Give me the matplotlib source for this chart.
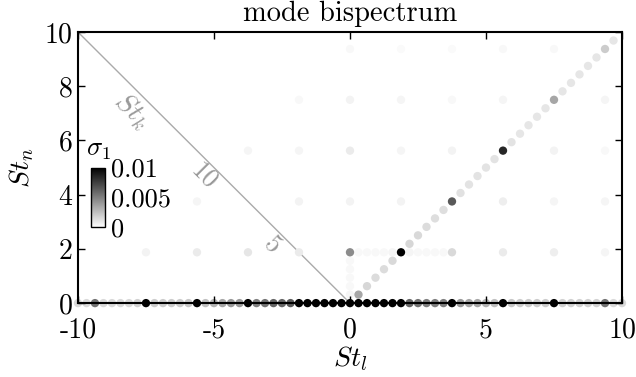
import matplotlib
matplotlib.use("Agg")
import matplotlib.pyplot as plt
import numpy as np

plt.rcParams['font.family'] = 'serif'
plt.rcParams['font.serif'] = ['cmr10', 'DejaVu Serif']
plt.rcParams['mathtext.fontset'] = 'cm'
plt.rcParams['axes.unicode_minus'] = False
plt.rcParams['axes.formatter.use_mathtext'] = True

# St_n = 0 row (St_l from -10 to 10)
row0_st_l = [-10.0, -9.6875, -9.375, -9.0625, -8.75, -8.4375, -8.125, -7.8125, -7.5,
             -7.1875, -6.875, -6.5625, -6.25, -5.9375, -5.625, -5.3125, -5.0, -4.6875,
             -4.375, -4.0625, -3.75, -3.4375, -3.125, -2.8125, -2.5, -2.1875, -1.875,
             -1.5625, -1.25, -0.9375, -0.625, -0.3125, 0.0, 0.3125, 0.625, 0.9375, 1.25,
             1.5625, 1.875, 2.1875, 2.5, 2.8125, 3.125, 3.4375, 3.75, 4.0625, 4.375,
             4.6875, 5.0, 5.3125, 5.625, 5.9375, 6.25, 6.5625, 6.875, 7.1875, 7.5,
             7.8125, 8.125, 8.4375, 8.75, 9.0625, 9.375, 9.6875, 10.0]
row0_sigma = [0.0015, 0.0015, 0.0055, 0.0015, 0.0015, 0.0015, 0.0015, 0.0018, 0.012,
              0.002, 0.002, 0.002, 0.002, 0.0022, 0.012, 0.0025, 0.003, 0.0035,
              0.004, 0.004, 0.012, 0.005, 0.0055, 0.006, 0.006, 0.0065, 0.012,
              0.012, 0.012, 0.012, 0.012, 0.012, 0.012, 0.012, 0.012, 0.012, 0.012,
              0.012, 0.011, 0.006, 0.0055, 0.005, 0.005, 0.005, 0.012, 0.004, 0.0035,
              0.0035, 0.003, 0.0025, 0.012, 0.0022, 0.002, 0.002, 0.002, 0.002, 0.012,
              0.0018, 0.0018, 0.0018, 0.0018, 0.0018, 0.0055, 0.0015, 0.0015]

# diagonal St_l = St_n
diag_st = [0.3125, 0.625, 0.9375, 1.25, 1.5625, 1.875, 2.1875, 2.5, 2.8125, 3.125,
           3.4375, 3.75, 4.0625, 4.375, 4.6875, 5.0, 5.3125, 5.625, 5.9375, 6.25,
           6.5625, 6.875, 7.1875, 7.5, 7.8125, 8.125, 8.4375, 8.75, 9.0625, 9.375, 9.6875]
diag_sigma = [0.0035, 0.0016, 0.0014, 0.0014, 0.0015, 0.011, 0.0016, 0.0015, 0.0014, 0.0013,
              0.0013, 0.0065, 0.0012, 0.0011, 0.0011, 0.0011, 0.0011, 0.0085, 0.0011, 0.001,
              0.001, 0.001, 0.001, 0.0035, 0.001, 0.001, 0.001, 0.001, 0.001, 0.002, 0.001]

# weaker interactions off the axis / diagonal
grid_st_l = [-7.5, -5.625, -3.75, -1.875, 0.0, 0.3125, 0.625, 0.9375, 1.25, 1.5625,
             2.1875, 2.5, 2.8125, 3.125, 3.4375, 3.75, 5.625, 7.5, 9.375,
             -5.625, -1.875, 0.0, 1.875, 5.625, 7.5, 9.375,
             -3.75, -1.875, 0.0, 1.875, 3.75, 7.5, 9.375,
             -1.875, 0.0, 1.875, 3.75, 5.625, 9.375,
             0.0, 1.875, 3.75, 5.625, 7.5,
             0.0, 0.0, 0.0, 0.0, 0.0]
grid_st_n = [1.875, 1.875, 1.875, 1.875, 1.875, 1.875, 1.875, 1.875, 1.875, 1.875,
             1.875, 1.875, 1.875, 1.875, 1.875, 1.875, 1.875, 1.875, 1.875,
             3.75, 3.75, 3.75, 3.75, 3.75, 3.75, 3.75,
             5.625, 5.625, 5.625, 5.625, 5.625, 5.625, 5.625,
             7.5, 7.5, 7.5, 7.5, 7.5, 7.5,
             9.375, 9.375, 9.375, 9.375, 9.375,
             0.3125, 0.625, 0.9375, 1.25, 1.5625]
grid_sigma = [0.0005, 0.0008, 0.001, 0.0008, 0.0045, 0.0003, 0.0003, 0.0003, 0.0003, 0.0004,
              0.0004, 0.0003, 0.0003, 0.0003, 0.0003, 0.0015, 0.0008, 0.0007, 0.0004,
              0.0004, 0.0005, 0.0005, 0.0005, 0.0007, 0.0004, 0.0004,
              0.0004, 0.0004, 0.0008, 0.0004, 0.0005, 0.0005, 0.0003,
              0.0003, 0.0005, 0.0004, 0.0003, 0.0004, 0.0004,
              0.0003, 0.0002, 0.0002, 0.0003, 0.0003,
              0.0004, 0.0003, 0.0003, 0.0003, 0.0003]

x = np.concatenate([grid_st_l, diag_st, row0_st_l])
y = np.concatenate([grid_st_n, diag_st, np.zeros(len(row0_st_l))])
c = np.concatenate([grid_sigma, diag_sigma, row0_sigma])
order = np.argsort(c)

fig = plt.figure(figsize=(6.36, 3.77), dpi=100)
ax = fig.add_axes([0.1226, 0.196, 0.8554, 0.719])

sc = ax.scatter(x[order], y[order], c=c[order], cmap='gray_r', vmin=0, vmax=0.01,
                s=36, linewidths=0, clip_on=False, zorder=1)

# St_k axis along the anti-diagonal
ax.plot([-10, 0], [10, 0], color='#aaaaaa', lw=1, zorder=0)
ax.text(-8.0, 7.1, '$St_k$', color='#999999', fontsize=20, rotation=-45,
        ha='center', va='center', rotation_mode='anchor')
ax.text(-5.35, 4.7, '10', color='#999999', fontsize=19, rotation=-45,
        ha='center', va='center', rotation_mode='anchor')
ax.text(-2.87, 2.14, '5', color='#999999', fontsize=19, rotation=-45,
        ha='center', va='center', rotation_mode='anchor')

ax.set_xlim(-10, 10)
ax.set_ylim(0, 10)
ax.set_xticks([-10, -5, 0, 5, 10], ['-10', '-5', '0', '5', '10'])
ax.set_yticks([0, 2, 4, 6, 8, 10], ['0', '2', '4', '6', '8', '10'])
ax.tick_params(direction='in', top=True, right=True, length=5, width=1,
               labelsize=20)
ax.tick_params(axis='x', pad=10)
ax.tick_params(axis='y', pad=4)
for sp in ax.spines.values():
    sp.set_linewidth(1.5)

ax.set_xlabel('$St_l$', fontsize=20, labelpad=1)
ax.set_ylabel('$St_n$', fontsize=20, labelpad=6)
ax.set_title('mode bispectrum', fontsize=20.5, pad=8)

cax = ax.inset_axes([0.024, 0.28, 0.026, 0.22])
cb = fig.colorbar(sc, cax=cax, ticks=[0, 0.005, 0.01])
cb.ax.set_yticklabels(['0', '0.005', '0.01'])
cb.ax.tick_params(length=0, labelsize=19, pad=4)
cb.outline.set_linewidth(1)
cax.text(0.5, 1.1, r'$\sigma_1$', transform=cax.transAxes, fontsize=19,
         ha='center', va='bottom')

fig.savefig('out.png', dpi=100)
